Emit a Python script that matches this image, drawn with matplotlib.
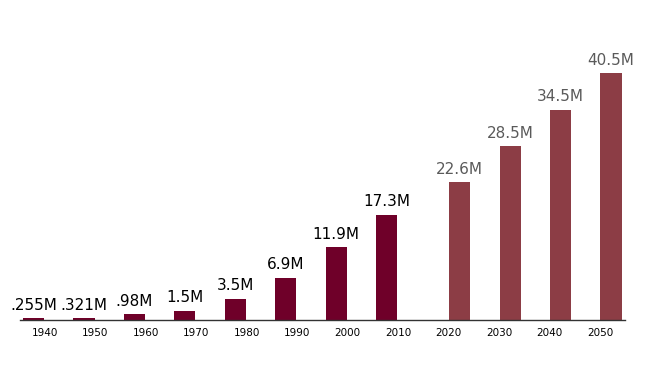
import matplotlib.pyplot as plt

# Population by decade (millions); 2020+ are projections
years = ['1940', '1950', '1960', '1970', '1980', '1990', '2000', '2010',
         '2020', '2030', '2040', '2050']
values = [0.255, 0.321, 0.98, 1.5, 3.5, 6.9, 11.9, 17.3, 22.6, 28.5, 34.5, 40.5]
labels = ['.255M', '.321M', '.98M', '1.5M', '3.5M', '6.9M', '11.9M', '17.3M',
          '22.6M', '28.5M', '34.5M', '40.5M']
projected = [False] * 8 + [True] * 4

fig = plt.figure(figsize=(6.57, 3.68), dpi=100)
ax = fig.add_axes([20 / 657, 48 / 368, 605 / 657, 320 / 368])

# two series (actual / projected) laid out like grouped bars
xs = list(range(len(years)))
bar_x = [x + (0.22 if p else -0.228) for x, p in zip(xs, projected)]
colors = ['#8c3d45' if p else '#6f0029' for p in projected]
ax.bar(bar_x, values, width=0.42, color=colors)

for x, v, lab, p in zip(bar_x, values, labels, projected):
    ax.text(x, v + 0.9, lab, ha='center', va='bottom', fontsize=11,
            color='#5a5a5a' if p else 'black')

ax.set_xticks(xs)
ax.set_xticklabels(years, fontsize=7.5)
ax.tick_params(axis='x', length=0, pad=6)

ax.set_xlim(-0.4955, 11.497)
ax.set_ylim(0, 52.5)
ax.set_yticks([])
for s in ['top', 'right', 'left']:
    ax.spines[s].set_visible(False)
ax.spines['bottom'].set_color('#333333')
ax.spines['bottom'].set_linewidth(1)

fig.savefig('out.png', dpi=100)
